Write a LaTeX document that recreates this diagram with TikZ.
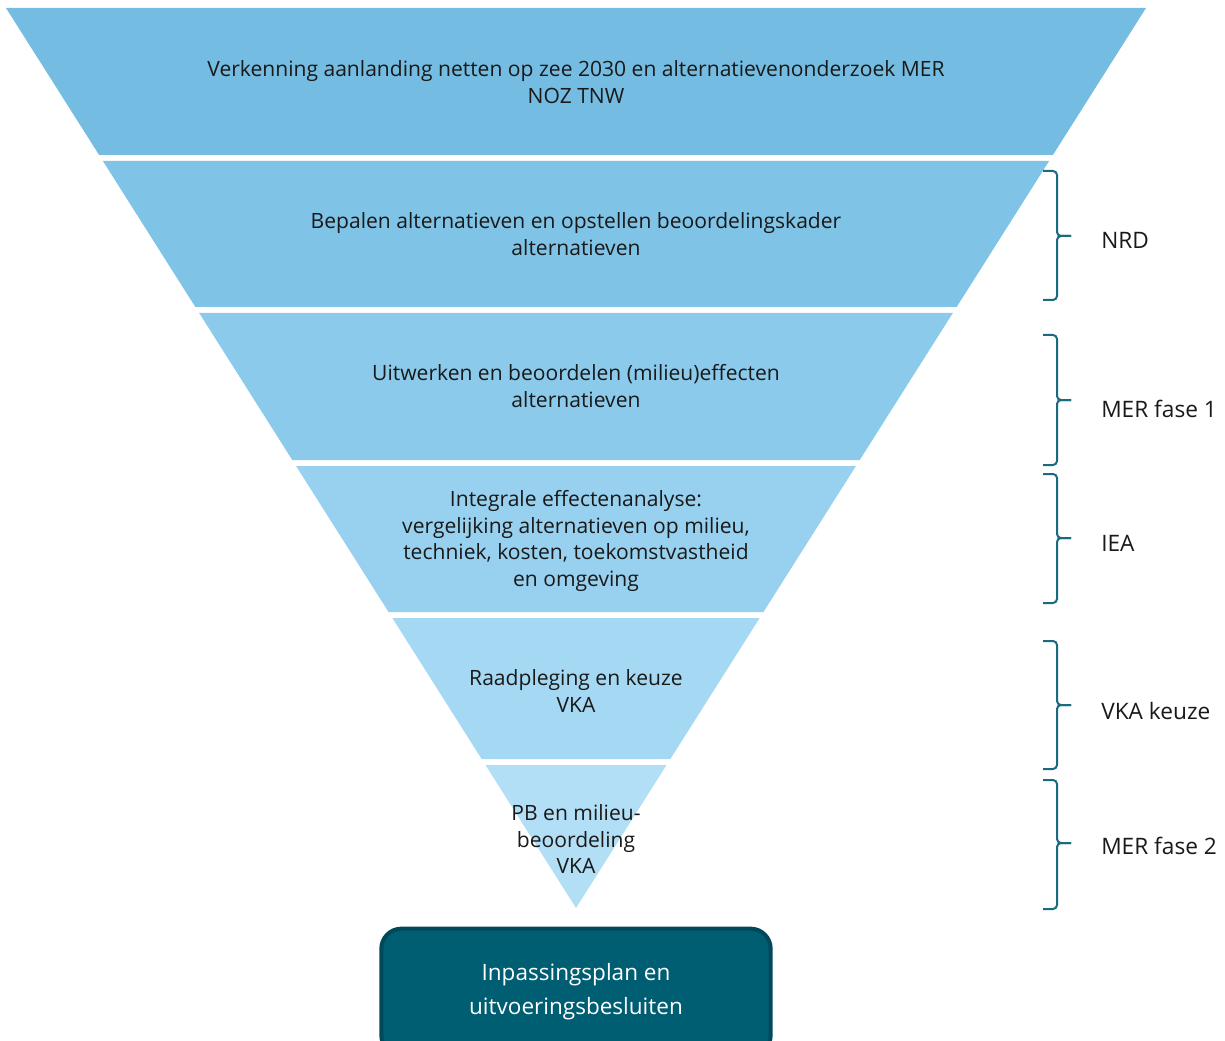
\documentclass[tikz,border=0pt]{standalone}
\usepackage{fontspec}
\setmainfont{Open Sans}
\usetikzlibrary{positioning}

\definecolor{bandA}{HTML}{74BCE1}
\definecolor{bandB}{HTML}{7FC3E6}
\definecolor{bandC}{HTML}{8BCAEB}
\definecolor{bandD}{HTML}{97D1EF}
\definecolor{bandE}{HTML}{A5D8F3}
\definecolor{bandF}{HTML}{B3DFF6}
\definecolor{braceteal}{HTML}{1A6A80}
\definecolor{planfill}{HTML}{005E73}
\definecolor{planline}{HTML}{00485A}

\begin{document}
\begin{tikzpicture}[x=0.75pt,y=-0.75pt,
    bandtext/.style={align=center,text=black!90,font=\fontsize{15.8}{19.9}\selectfont},
    phaselabel/.style={anchor=west,inner sep=0pt,text=black!90,font=\fontsize{17}{20}\selectfont},
    phasebrace/.style={draw=braceteal,line width=1.5pt,rounded corners=3pt},
    finalbox/.style={rectangle,draw=planline,fill=planfill,line width=3pt,rounded corners=15pt,
        minimum width=292pt,minimum height=95pt,align=center,text=white,
        font=\fontsize{16.9}{25.5}\selectfont}]
    \useasboundingbox (0,0) rectangle (1225,1041);

    % Trechter
    \foreach \ytop/\ybot/\col in {8/155/bandA,161/307/bandB,313/460/bandC,466/612/bandD,618/759/bandE,765/908/bandF}{
        \pgfmathsetmacro\lt{6+(\ytop-8)*0.63333}
        \pgfmathsetmacro\lb{6+(\ybot-8)*0.63333}
        \fill[\col] (\lt,\ytop) -- ({1152-\lt},\ytop) -- ({1152-\lb},\ybot) -- (\lb,\ybot) -- cycle;
    }
    \node[bandtext] (verkenning) at (576,82) {Verkenning aanlanding netten op zee 2030 en alternatievenonderzoek MER\\NOZ TNW};
    \node[bandtext] (bepalen) at (576,234) {Bepalen alternatieven en opstellen beoordelingskader\\alternatieven};
    \node[bandtext] (uitwerken) at (576,386) {Uitwerken en beoordelen (milieu)effecten\\alternatieven};
    \node[bandtext] (integraal) at (576,541) {Integrale effectenanalyse:\\vergelijking alternatieven op milieu,\\techniek, kosten, toekomstvastheid\\en omgeving};
    \node[bandtext] (raadpleging) at (576,691) {Raadpleging en keuze\\VKA};
    \node[bandtext] (pb) at (576,839) {PB en milieu-\\beoordeling\\VKA};

    % Fasen
    \foreach \ytop/\ybot/\ymid/\ylbl/\nm/\lbl in {171/300/236/240/nrd/NRD,335/465/400/409/merfase1/MER fase 1,474/603/538/543/iea/IEA,641/769/705/711/vkakeuze/VKA keuze,780/909/843/846/merfase2/MER fase 2}{
        \draw[phasebrace] (1043,\ytop) -- (1057,\ytop) -- (1057,\ymid) -- (1071,\ymid);
        \draw[phasebrace] (1071,\ymid) -- (1057,\ymid) -- (1057,\ybot) -- (1043,\ybot);
        \node[phaselabel] (\nm) at (1101,\ylbl) {\lbl};
    }

    % Besluit
    \node[finalbox] (plan) at (576,992) {Inpassingsplan en\\uitvoeringsbesluiten};
\end{tikzpicture}
\end{document}
